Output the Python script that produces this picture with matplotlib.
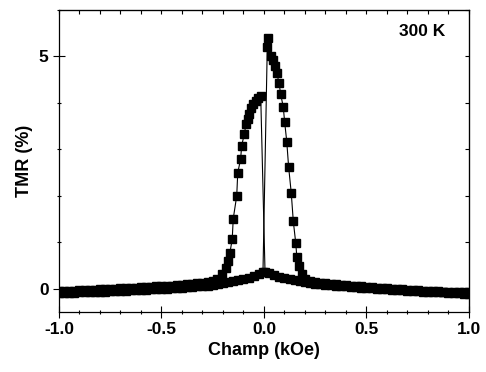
import matplotlib.pyplot as plt
from matplotlib.ticker import MultipleLocator

plt.rcParams['font.family'] = ['Liberation Sans', 'DejaVu Sans']
plt.rcParams['font.weight'] = 'bold'

# champ croissant (-1 -> +1 kOe)
h_up = [-1.0, -0.975, -0.95, -0.925, -0.9, -0.875, -0.85, -0.825, -0.8, -0.775,
        -0.75, -0.725, -0.7, -0.675, -0.65, -0.625, -0.6, -0.575, -0.55, -0.525,
        -0.5, -0.475, -0.45, -0.425, -0.4, -0.375, -0.35, -0.325, -0.3, -0.275,
        -0.25, -0.225, -0.2, -0.175, -0.15, -0.125, -0.1, -0.075, -0.05, -0.025,
        -0.005, 0.016, 0.021, 0.033, 0.045, 0.054, 0.062, 0.073, 0.081, 0.094,
        0.101, 0.111, 0.120, 0.133, 0.143, 0.155, 0.160, 0.169, 0.184, 0.200,
        0.225, 0.25, 0.275, 0.3, 0.325, 0.35, 0.375, 0.4, 0.425, 0.45,
        0.475, 0.5, 0.525, 0.55, 0.575, 0.6, 0.625, 0.65, 0.675, 0.7,
        0.725, 0.75, 0.775, 0.8, 0.825, 0.85, 0.875, 0.9, 0.925, 0.95,
        0.975, 1.0]
tmr_up = [-0.10, -0.10, -0.09, -0.09, -0.08, -0.08, -0.07, -0.07, -0.06, -0.06,
          -0.05, -0.05, -0.04, -0.04, -0.03, -0.03, -0.02, -0.02, -0.01, -0.01,
          0.0, 0.0, 0.01, 0.01, 0.02, 0.03, 0.04, 0.05, 0.06, 0.07,
          0.08, 0.10, 0.12, 0.14, 0.16, 0.18, 0.21, 0.24, 0.27, 0.31,
          0.36, 5.20, 5.39, 5.01, 4.92, 4.80, 4.65, 4.44, 4.20, 3.91,
          3.58, 3.17, 2.63, 2.06, 1.45, 0.98, 0.69, 0.49, 0.32, 0.22,
          0.17, 0.15, 0.13, 0.12, 0.11, 0.10, 0.09, 0.08, 0.07, 0.06,
          0.05, 0.04, 0.03, 0.02, 0.02, 0.01, 0.0, 0.0, -0.01, -0.02,
          -0.02, -0.03, -0.04, -0.04, -0.05, -0.05, -0.06, -0.06, -0.07, -0.07,
          -0.08, -0.08]

# champ decroissant (+1 -> -1 kOe)
h_down = [1.0, 0.975, 0.95, 0.925, 0.9, 0.875, 0.85, 0.825, 0.8, 0.775,
          0.75, 0.725, 0.7, 0.675, 0.65, 0.625, 0.6, 0.575, 0.55, 0.525,
          0.5, 0.475, 0.45, 0.425, 0.4, 0.375, 0.35, 0.325, 0.3, 0.275,
          0.25, 0.225, 0.2, 0.175, 0.15, 0.125, 0.1, 0.075, 0.05, 0.025,
          0.005, -0.016, -0.028, -0.039, -0.052, -0.062, -0.072, -0.080, -0.088, -0.096,
          -0.109, -0.114, -0.128, -0.133, -0.150, -0.155, -0.166, -0.174, -0.185, -0.206,
          -0.231, -0.25, -0.275, -0.3, -0.325, -0.35, -0.375, -0.4, -0.425, -0.45,
          -0.475, -0.5, -0.525, -0.55, -0.575, -0.6, -0.625, -0.65, -0.675, -0.7,
          -0.725, -0.75, -0.775, -0.8, -0.825, -0.85, -0.875, -0.9, -0.925, -0.95,
          -0.975, -1.0]
tmr_down = [-0.11, -0.11, -0.10, -0.10, -0.09, -0.08, -0.08, -0.07, -0.06, -0.06,
            -0.05, -0.04, -0.04, -0.03, -0.02, -0.02, -0.01, 0.0, 0.0, 0.01,
            0.02, 0.02, 0.03, 0.04, 0.05, 0.06, 0.07, 0.08, 0.09, 0.10,
            0.11, 0.13, 0.15, 0.17, 0.19, 0.21, 0.23, 0.26, 0.29, 0.33,
            0.37, 4.15, 4.10, 4.04, 3.97, 3.89, 3.77, 3.66, 3.54, 3.33,
            3.08, 2.79, 2.50, 2.00, 1.51, 1.07, 0.78, 0.60, 0.45, 0.32,
            0.22, 0.17, 0.15, 0.13, 0.12, 0.11, 0.10, 0.09, 0.08, 0.07,
            0.06, 0.05, 0.05, 0.04, 0.03, 0.03, 0.02, 0.02, 0.01, 0.01,
            0.0, 0.0, -0.01, -0.01, -0.02, -0.02, -0.03, -0.03, -0.04, -0.04,
            -0.05, -0.05]

fig = plt.figure(figsize=(4.86, 3.72), dpi=100)
ax = fig.add_axes([0.1214, 0.1613, 0.8436, 0.8117])

for h, t in [(h_up, tmr_up), (h_down, tmr_down)]:
    ax.plot(h, t, color='black', lw=0.8, marker='s', markersize=5.5,
            markeredgecolor='black', markerfacecolor='black')

ax.set_xlim(-1.0, 1.0)
ax.set_ylim(-0.5, 6.0)
ax.xaxis.set_major_locator(MultipleLocator(0.5))
ax.xaxis.set_minor_locator(MultipleLocator(0.1))
ax.yaxis.set_major_locator(MultipleLocator(5))
ax.yaxis.set_minor_locator(MultipleLocator(1))
ax.xaxis.set_major_formatter(plt.FormatStrFormatter('%.1f'))
ax.tick_params(which='major', direction='inout', length=8, width=0.8, labelsize=12.5)
ax.tick_params(which='minor', direction='inout', length=3.5, width=0.8)
for s in ax.spines.values():
    s.set_linewidth(0.9)

top = ax.secondary_xaxis('top')
top.xaxis.set_major_locator(MultipleLocator(0.5))
top.xaxis.set_minor_locator(MultipleLocator(0.1))
top.tick_params(which='both', direction='in', length=3, width=0.8, labeltop=False)
right = ax.secondary_yaxis('right')
right.yaxis.set_major_locator(MultipleLocator(5))
right.yaxis.set_minor_locator(MultipleLocator(1))
right.tick_params(which='both', direction='in', length=3, width=0.8, labelright=False)

ax.set_xlabel('Champ (kOe)', fontsize=13, fontweight='bold', labelpad=3)
ax.set_ylabel('TMR (%)', fontsize=13, fontweight='bold', labelpad=4)
ax.text(0.885, 0.928, '300 K', transform=ax.transAxes, ha='center', va='center',
        fontsize=12.5, fontweight='bold')

fig.savefig('out.png', dpi=100)
